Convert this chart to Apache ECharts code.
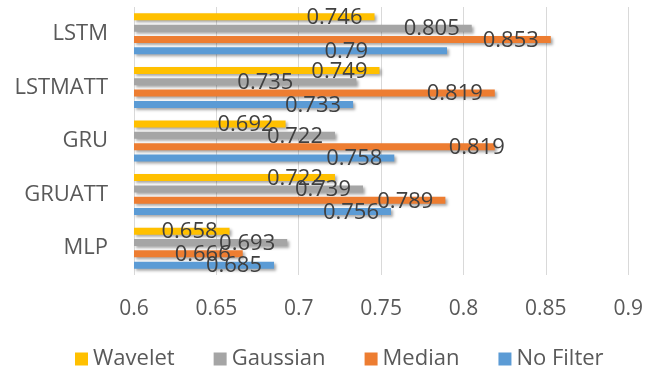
<!DOCTYPE html>
<html>
<head>
<meta charset="utf-8">
<script src="https://cdn.jsdelivr.net/npm/echarts@6/dist/echarts.min.js"></script>
<style>
  html, body { margin: 0; padding: 0; background: #ffffff; }
  #chart { width: 646px; height: 373px; }
</style>
</head>
<body>
<div id="chart"></div>
<script>
// Models, listed bottom to top along the category axis
const models = ['MLP', 'GRUATT', 'GRU', 'LSTMATT', 'LSTM'];

// Accuracy per filter, in the same model order
const wavelet  = [0.658, 0.722, 0.692, 0.749, 0.746];
const gaussian = [0.693, 0.739, 0.722, 0.735, 0.805];
const median   = [0.666, 0.789, 0.819, 0.819, 0.853];
const noFilter = [0.685, 0.756, 0.758, 0.733, 0.79];

const filterNames = ['Wavelet', 'Gaussian', 'Median', 'No Filter'];
const xTicks = { min: 0.6, max: 0.9, step: 0.05 };

// A few value labels are nudged sideways so they do not collide
const labelNudge = {
  'No Filter|LSTM': -67,
  'Gaussian|LSTMATT': -51,
  'Median|GRU': 22
};

const colors = {
  'Wavelet': '#FFC000',
  'Gaussian': '#A5A5A5',
  'Median': '#ED7D31',
  'No Filter': '#5B9BD5'
};

const FONT = '"Open Sans", "Noto Sans", sans-serif';

function makeSeries(name, values) {
  return {
    name: name,
    type: 'bar',
    barWidth: 7,
    barGap: '62%',
    itemStyle: {
      color: colors[name],
      shadowColor: 'rgba(0,0,0,0.35)',
      shadowBlur: 3,
      shadowOffsetX: 2,
      shadowOffsetY: 2
    },
    label: {
      show: true,
      position: 'insideRight',
      distance: 12,
      color: '#404040',
      fontFamily: FONT,
      fontSize: 22
    },
    data: values.map((v, i) => {
      const key = name + '|' + models[i];
      const item = { value: v };
      if (labelNudge[key] !== undefined) {
        item.label = { offset: [labelNudge[key], 1] };
      } else {
        item.label = { offset: [0, 1] };
      }
      return item;
    })
  };
}

const chart = echarts.init(document.getElementById('chart'), null, { renderer: 'canvas' });

chart.setOption({
  animation: false,
  backgroundColor: '#ffffff',
  grid: { left: 134, right: 15, top: 7, bottom: 98 },
  legend: {
    data: filterNames,
    left: 70,
    top: 343,
    itemWidth: 13,
    itemHeight: 13,
    itemGap: 39,
    icon: 'rect',
    textStyle: { color: '#595959', fontFamily: FONT, fontSize: 22, padding: [0, 0, 0, 0] }
  },
  xAxis: {
    type: 'value',
    min: xTicks.min,
    max: xTicks.max,
    interval: xTicks.step,
    axisLine: { show: false },
    axisTick: { show: false },
    splitLine: { show: true, lineStyle: { color: '#d9d9d9', width: 1 } },
    axisLabel: { color: '#595959', fontFamily: FONT, fontSize: 21, margin: 24 }
  },
  yAxis: {
    type: 'category',
    data: models,
    axisLine: { show: false },
    axisTick: { show: false },
    axisLabel: { color: '#595959', fontFamily: FONT, fontSize: 22, margin: 26 }
  },
  // Series order gives Wavelet the top slot in each group
  series: [
    makeSeries('Wavelet', wavelet),
    makeSeries('Gaussian', gaussian),
    makeSeries('Median', median),
    makeSeries('No Filter', noFilter)
  ]
});
</script>
</body>
</html>
